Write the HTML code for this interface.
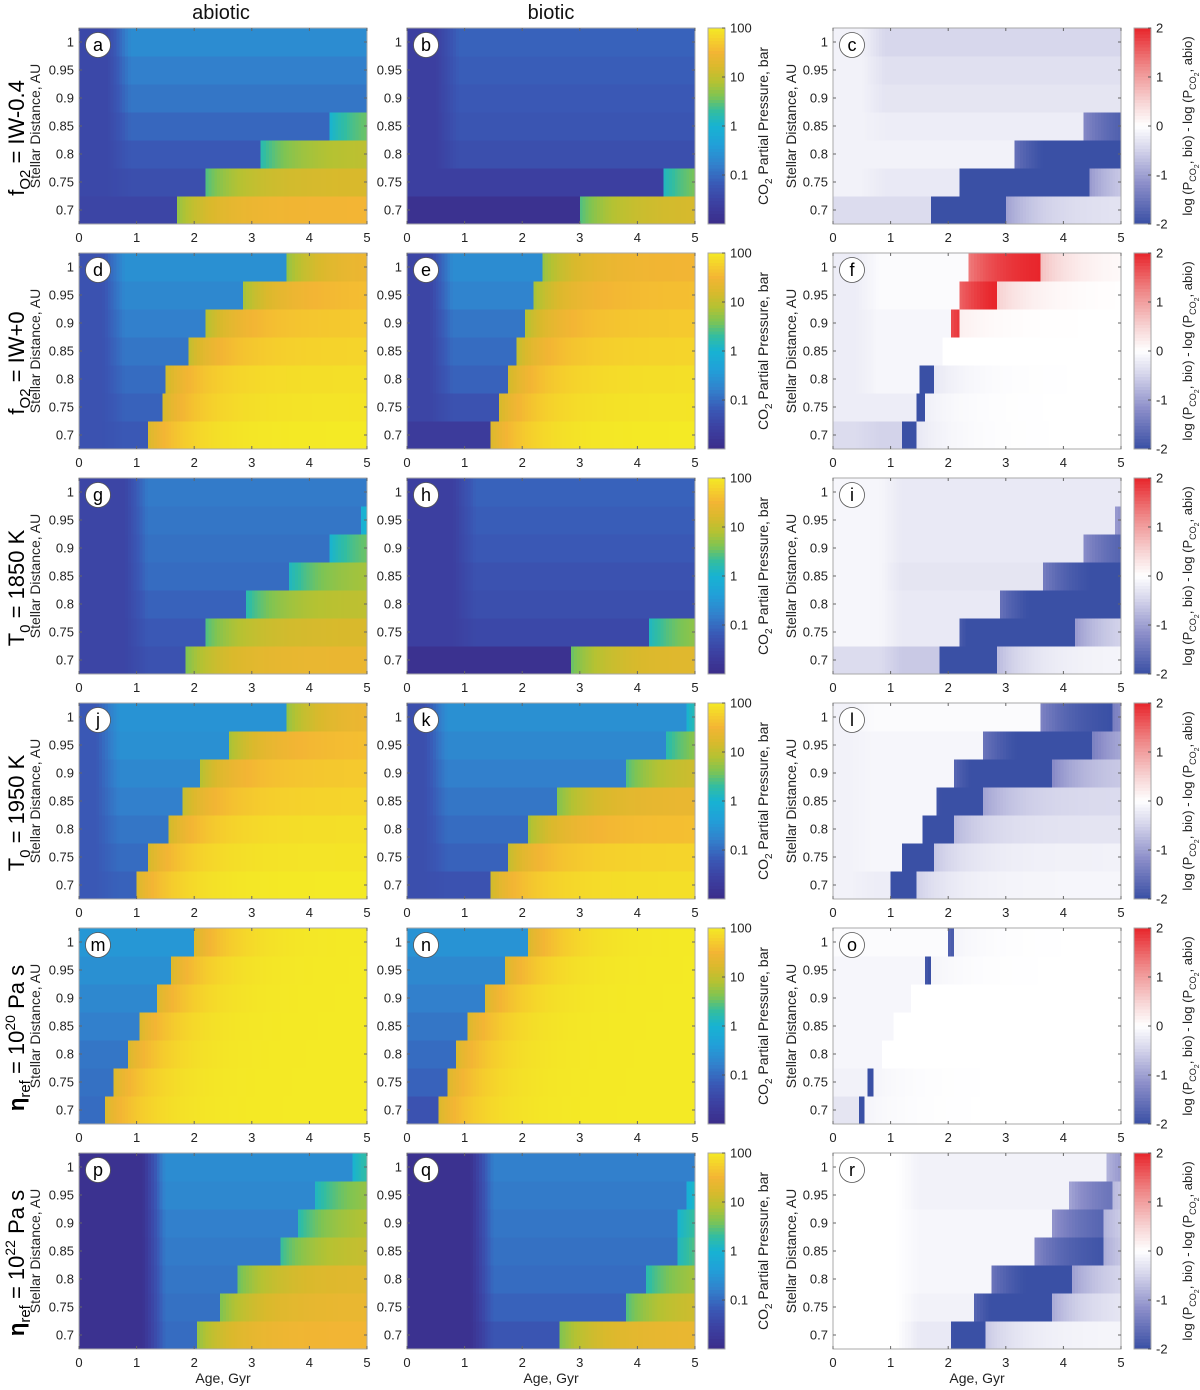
<!DOCTYPE html>
<html><head><meta charset="utf-8"><style>
body{margin:0;background:#fff;width:1200px;height:1390px;overflow:hidden}
svg{display:block;font-family:"Liberation Sans",sans-serif}
</style></head><body>
<svg id="fig" width="1200" height="1390" xmlns="http://www.w3.org/2000/svg"></svg>
<script>
// distance bands (AU), bottom to top
const distances=[0.7,0.75,0.8,0.85,0.9,0.95,1.0];
const ageTicks=[0,1,2,3,4,5];
const distTicks=[0.7,0.75,0.8,0.85,0.9,0.95,1];
const cbTicksP=[100,10,1,0.1];
const cbTicksD=[2,1,0,-1,-2];
const letters=["a","b","c","d","e","f","g","h","i","j","k","l","m","n","o","p","q","r"];
// transition age (Gyr) per band, 9 = none
const aTrans=[1.7,2.2,3.15,4.35,9,9,9];
const bTrans=[3.0,4.45,9,9,9,9,9];
const dTrans=[1.2,1.45,1.5,1.9,2.2,2.85,3.6];
const eTrans=[1.45,1.6,1.75,1.9,2.05,2.2,2.35];
const gTrans=[1.85,2.2,2.9,3.65,4.35,4.9,9];
const hTrans=[2.85,4.2,9,9,9,9,9];
const jTrans=[1.0,1.2,1.55,1.8,2.1,2.6,3.6];
const kTrans=[1.45,1.75,2.1,2.6,3.8,4.5,4.85];
const mTrans=[0.45,0.6,0.85,1.05,1.35,1.6,2.0];
const nTrans=[0.55,0.7,0.85,1.05,1.35,1.7,2.1];
const pTrans=[2.05,2.45,2.75,3.5,3.8,4.1,4.75];
const qTrans=[2.65,3.8,4.15,4.7,4.7,4.85,5.0];
// log10 CO2 pressure before transition
const aPre=[-1.5,-1.35,-1.2,-1.05,-0.9,-0.8,-0.65];
const bPre=[-1.9,-1.6,-1.35,-1.25,-1.2,-1.15,-1.1];
const dPre=[-1.2,-1.1,-1.0,-0.9,-0.8,-0.7,-0.6];
const ePre=[-1.7,-1.3,-1.1,-1.0,-0.9,-0.75,-0.65];
const gPre=[-1.3,-1.2,-1.1,-1.0,-0.95,-0.9,-0.85];
const hPre=[-1.9,-1.45,-1.35,-1.3,-1.2,-1.15,-1.1];
const jPre=[-1.1,-1.0,-0.9,-0.8,-0.7,-0.6,-0.55];
const kPre=[-1.3,-1.1,-1.0,-0.9,-0.8,-0.7,-0.6];
const mPre=[-1.0,-0.95,-0.9,-0.8,-0.7,-0.6,-0.5];
const nPre=[-1.3,-1.1,-1.0,-0.9,-0.8,-0.7,-0.55];
const pPre=[-1.0,-0.95,-0.9,-0.85,-0.8,-0.7,-0.65];
const qPre=[-1.25,-1.1,-1.0,-0.95,-0.9,-0.85,-0.8];
// log10 CO2 pressure at 5 Gyr after transition
const aPost=[1.5,1.2,1.0,0.8,0.7,0.7,0.7];
const bPost=[1.2,0.9,0.7,0.7,0.7,0.7,0.7];
const dPost=[2,1.95,1.9,1.8,1.7,1.6,1.5];
const ePost=[2,1.95,1.9,1.8,1.7,1.6,1.5];
const gPost=[1.4,1.2,1.0,0.9,0.8,0.7,0.6];
const hPost=[1.3,0.9,0.7,0.7,0.7,0.7,0.7];
const jPost=[2,1.95,1.9,1.8,1.7,1.6,1.5];
const kPost=[1.9,1.8,1.6,1.4,1.2,1.0,0.8];
const mPost=[2,2,2,2,2,2,2];
const nPost=[2,2,2,2,2,2,2];
const pPost=[1.5,1.4,1.3,1.1,1.0,0.9,0.8];
const qPost=[1.4,1.2,1.0,0.9,0.8,0.7,0.6];
// early dark phase [end age, log value]
const aDark=[0.5,-1.45],bDark=[0.5,-1.6],dDark=[0.4,-1.3],eDark=[0.4,-1.5],gDark=[0.8,-1.5],hDark=[0.8,-1.6];
const jDark=[0.3,-1.2],kDark=[0.3,-1.35],mDark=[0,0],nDark=[0,0],pDark=[1.1,-1.9],qDark=[1.1,-1.9];

const rows=[
 {label:["f","O2"," = IW-0.4"],ab:[aTrans,aPre,aPost,aDark],bi:[bTrans,bPre,bPost,bDark]},
 {label:["f","O2"," = IW+0"],ab:[dTrans,dPre,dPost,dDark],bi:[eTrans,ePre,ePost,eDark]},
 {label:["T","0"," = 1850 K"],ab:[gTrans,gPre,gPost,gDark],bi:[hTrans,hPre,hPost,hDark]},
 {label:["T","0"," = 1950 K"],ab:[jTrans,jPre,jPost,jDark],bi:[kTrans,kPre,kPost,kDark]},
 {label:["η","ref"," = 10","20"," Pa s"],ab:[mTrans,mPre,mPost,mDark],bi:[nTrans,nPre,nPost,nDark]},
 {label:["η","ref"," = 10","22"," Pa s"],ab:[pTrans,pPre,pPost,pDark],bi:[qTrans,qPre,qPost,qDark]}
];
const NS="http://www.w3.org/2000/svg";
const svg=document.getElementById('fig');
function mk(tag,attrs,parent){const e=document.createElementNS(NS,tag);for(const k in attrs)e.setAttribute(k,attrs[k]);(parent||svg).appendChild(e);return e;}
const colX=[79,407,833], PW=288, PH=196, rowY=i=>28+i*225;
const xScale=(c,a)=>colX[c]+a/5*PW;
const yScale=(r,d)=>rowY(r)+(1.025-d)/0.35*PH;
function hex(h){return [parseInt(h.slice(1,3),16),parseInt(h.slice(3,5),16),parseInt(h.slice(5,7),16)];}
function interp(stops,t){if(t<=stops[0][0])return stops[0][1];for(let i=1;i<stops.length;i++){if(t<=stops[i][0]){const a=stops[i-1],b=stops[i];const f=(t-a[0])/(b[0]-a[0]);const A=hex(a[1]),B=hex(b[1]);return 'rgb('+A.map((v,k)=>Math.round(v+(B[k]-v)*f)).join(',')+')';}}return stops[stops.length-1][1];}
const parula=[[-2,'#3b2d8a'],[-1.6,'#3c3fa0'],[-1.2,'#3a58b5'],[-0.8,'#3280cc'],[-0.4,'#229fd8'],[0,'#17b3d2'],[0.3,'#33bda0'],[0.6,'#7ec453'],[0.9,'#b5c232'],[1.2,'#dab92c'],[1.5,'#f3b534'],[1.75,'#f5cf2c'],[2,'#f4ea25']];
const diverg=[[-2,'#3a50a5'],[-1.2,'#8a8cc8'],[-0.5,'#d3d3ea'],[0,'#ffffff'],[0.5,'#f7d3d3'],[1.2,'#ef8a8a'],[2,'#e8252b']];
function val(set,b,age){const [tr,pre,post,dk]=set;
 if(age<tr[b]){let w=age<dk[0]?1:Math.max(0,1-(age-dk[0])/0.4);if(dk[0]===0)w=0;
  return pre[b]+(Math.min(pre[b],dk[1])-pre[b])*w;}
 return post[b]-0.8*Math.exp(-(age-tr[b])/0.6);}
const NC=100;
rows.forEach((row,r)=>{
 for(let c=0;c<3;c++){
  const g=mk('g',{});
  
  
  distances.forEach((d,b)=>{
   const y0=yScale(r,d+0.025),y1=yScale(r,d-0.025);
   for(let i=0;i<NC;i++){
    const a=(i+0.5)*5/NC;
    let col;
    if(c===0)col=interp(parula,val(row.ab,b,a));
    else if(c===1)col=interp(parula,val(row.bi,b,a));
    else{let v=val(row.bi,b,a)-val(row.ab,b,a);v=Math.max(-2,Math.min(2,v));col=interp(diverg,v);}
    const x0=xScale(c,i*5/NC),x1=xScale(c,(i+1)*5/NC);
    const rc=mk('rect',{x:x0,y:y0,width:x1-x0+0.6,height:y1-y0+0.6,fill:col,'shape-rendering':'crispEdges'},g);
    
    
   }
  });
  const fr=mk('rect',{x:colX[c],y:rowY(r),width:PW,height:PH,fill:'none',stroke:'#aaa','stroke-width':1});
  
  
  ageTicks.forEach(t=>{const x=xScale(c,t);
   mk('line',{x1:x,x2:x,y1:rowY(r)+PH,y2:rowY(r)+PH-3,stroke:'#666'});
   mk('line',{x1:x,x2:x,y1:rowY(r),y2:rowY(r)+3,stroke:'#666'});
   const tx=mk('text',{x:x,y:rowY(r)+PH+18,'font-size':13,'text-anchor':'middle',fill:'#222'});tx.textContent=t;
   
   });
  distTicks.forEach(t=>{const y=yScale(r,t);
   mk('line',{x1:colX[c],x2:colX[c]+3,y1:y,y2:y,stroke:'#666'});
   mk('line',{x1:colX[c]+PW,x2:colX[c]+PW-3,y1:y,y2:y,stroke:'#666'});
   const tx=mk('text',{x:colX[c]-5,y:y+4.5,'font-size':13,'text-anchor':'end',fill:'#222'});tx.textContent=t;
   
   });
  const cx=colX[c]+19,cy=rowY(r)+17;
  const ci=mk('circle',{cx:cx,cy:cy,r:12.5,fill:'#fff',stroke:'#555','stroke-width':0.8});
  
  
  const lt=mk('text',{x:cx,y:cy+6,'font-size':18,'text-anchor':'middle',fill:'#000'});lt.textContent=letters[r*3+c];
  
  
  if(r===5){const xl=mk('text',{x:colX[c]+PW/2,y:1383,'font-size':14,'text-anchor':'middle',fill:'#222'});xl.textContent='Age, Gyr';
   
   }
 }
 const mid=rowY(r)+PH/2;
 [[40,0],[796,2]].forEach(([bx])=>{const t=mk('text',{transform:`translate(${bx},${mid}) rotate(-90)`,'font-size':14,'text-anchor':'middle',fill:'#222'});t.textContent='Stellar Distance, AU';
  
  });
 const L=row.label;
 const rl=mk('text',{transform:`translate(24,${mid+12}) rotate(-90)`,'font-size':22,'text-anchor':'middle',fill:'#000'});
 
 
 let h='<tspan font-weight="'+(L[0]==='η'?'bold':'normal')+'">'+L[0]+'</tspan><tspan font-size="15" dy="6">'+L[1]+'</tspan><tspan dy="-6">'+L[2]+'</tspan>';
 if(L.length>3)h+='<tspan font-size="14" dy="-9">'+L[3]+'</tspan><tspan dy="9">'+L[4]+'</tspan>';
 rl.innerHTML=h;
 [[708,parula,'p'],[1134,diverg,'d']].forEach(([cx0,st,kind])=>{
  const g=mk('g',{});
  
  
  const n=60;
  for(let i=0;i<n;i++){const v=2-4*(i+0.5)/n;mk('rect',{x:cx0,y:rowY(r)+i*PH/n,width:17,height:PH/n+0.6,fill:interp(st,v),'shape-rendering':'crispEdges'},g);}
  mk('rect',{x:cx0,y:rowY(r),width:17,height:PH,fill:'none',stroke:'#aaa'},g);
  const ticks=kind==='p'?cbTicksP:cbTicksD;
  ticks.forEach(t=>{const v=kind==='p'?Math.log10(t):t;const y=rowY(r)+(2-v)/4*PH;
   mk('line',{x1:cx0+14,x2:cx0+17,y1:y,y2:y,stroke:'#555'},g);
   const tx=mk('text',{x:cx0+22,y:y+4.5,'font-size':13,fill:'#222'},g);tx.textContent=t;
   
   });
 });
 const c1=mk('text',{transform:`translate(768,${mid}) rotate(-90)`,'font-size':14,'text-anchor':'middle',fill:'#222'});
 c1.innerHTML='CO<tspan font-size="10" dy="4">2</tspan><tspan dy="-4"> Partial Pressure, bar</tspan>';
 
 
 const c2=mk('text',{transform:`translate(1192,${mid}) rotate(-90)`,'font-size':13,'text-anchor':'middle',fill:'#222'});
 c2.innerHTML='log (P<tspan font-size="9" dy="4">CO</tspan><tspan font-size="7" dy="3">2</tspan><tspan dy="-7">, bio) - log (P</tspan><tspan font-size="9" dy="4">CO</tspan><tspan font-size="7" dy="3">2</tspan><tspan dy="-7">, abio)</tspan>';
 
 
});
[['abiotic',221],['biotic',551]].forEach(([s,x])=>{const t=mk('text',{x:x,y:19,'font-size':20,'text-anchor':'middle',fill:'#111'});t.textContent=s;
 
 });
</script>
</body></html>
